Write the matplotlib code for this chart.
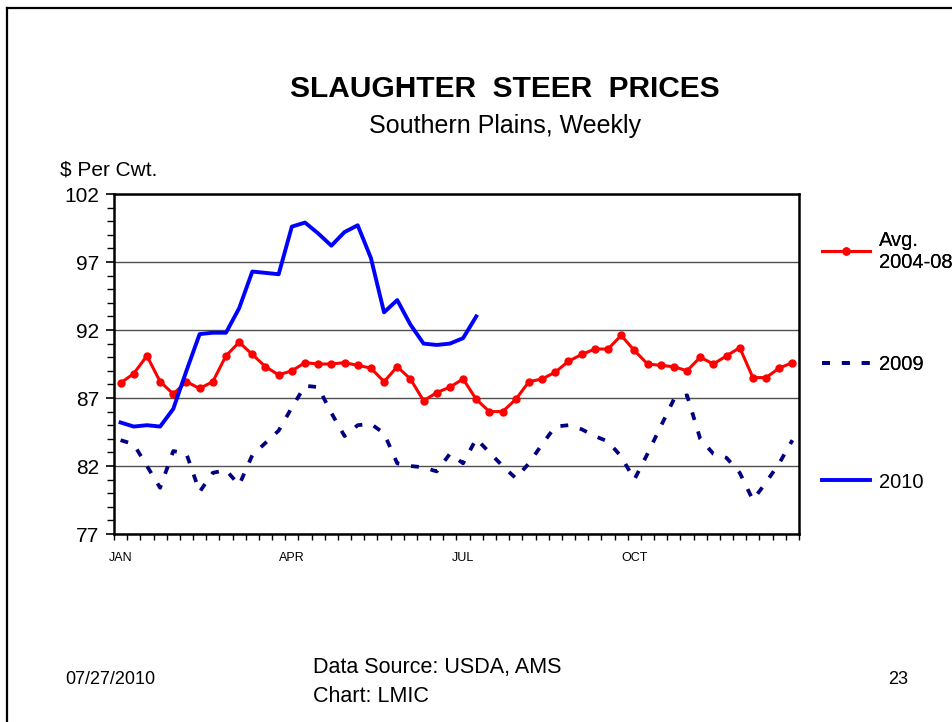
import matplotlib
matplotlib.use("Agg")
import matplotlib.pyplot as plt
from matplotlib.lines import Line2D
from matplotlib.ticker import MultipleLocator, FixedLocator, NullFormatter

plt.rcParams['font.family'] = ['Liberation Sans', 'DejaVu Sans']

# weekly prices, $ per cwt
weeks = list(range(52))
avg_0408 = [88.1, 88.8, 90.1, 88.2, 87.3, 88.2, 87.7, 88.2, 90.1, 91.1,
            90.2, 89.3, 88.7, 89.0, 89.6, 89.5, 89.5, 89.6, 89.4, 89.2,
            88.2, 89.3, 88.4, 86.8, 87.4, 87.8, 88.4, 86.9, 86.0, 86.0,
            86.9, 88.2, 88.4, 88.9, 89.7, 90.2, 90.6, 90.6, 91.6, 90.5,
            89.5, 89.4, 89.3, 89.0, 90.0, 89.5, 90.1, 90.7, 88.5, 88.5,
            89.2, 89.6]
y2009 = [83.9, 83.6, 82.0, 80.4, 83.1, 82.9, 80.1, 81.5, 81.7, 80.6,
         82.8, 83.7, 84.6, 86.3, 87.9, 87.8, 85.9, 84.2, 85.0, 85.1,
         84.4, 82.2, 82.0, 81.9, 81.6, 82.9, 82.2, 84.0, 83.0, 82.0,
         81.1, 82.2, 83.6, 84.9, 85.0, 84.7, 84.2, 83.8, 82.7, 81.0,
         82.9, 84.9, 86.9, 87.2, 84.0, 82.9, 82.6, 81.5, 79.5, 80.8,
         82.2, 83.9]
y2010 = [85.2, 84.9, 85.0, 84.9, 86.2, 89.0, 91.7, 91.8, 91.8, 93.6,
         96.3, 96.2, 96.1, 99.6, 99.9, 99.1, 98.2, 99.2, 99.7, 97.3,
         93.3, 94.2, 92.4, 91.0, 90.9, 91.0, 91.4, 93.0]

y_ticks = [77, 82, 87, 92, 97, 102]
month_pos = [0, 13, 26, 39]
month_labels = ['JAN', 'APR', 'JUL', 'OCT']

fig = plt.figure(figsize=(9.53, 7.22), dpi=100)

# slide frame
fig.add_artist(Line2D([7/953, 7/953], [0, 1 - 8/722], transform=fig.transFigure, color='black', lw=1.6))
fig.add_artist(Line2D([7/953, 1], [1 - 8/722, 1 - 8/722], transform=fig.transFigure, color='black', lw=1.6))

ax = fig.add_axes([114/953, 188/722, 685/953, 340/722])

l1, = ax.plot(weeks, avg_0408, color='#FF0000', lw=2.2, marker='o', markersize=5, zorder=3)
l2, = ax.plot(weeks, y2009, color='#000080', lw=2.7, linestyle=(0, (2.1, 3.2)), zorder=2)
l3, = ax.plot(weeks[:len(y2010)], y2010, color='#0000FF', lw=2.8, zorder=4)

ax.set_xlim(-0.5, 51.5)
ax.set_ylim(y_ticks[0], y_ticks[-1])
ax.yaxis.set_major_locator(FixedLocator(y_ticks))
ax.yaxis.set_minor_locator(MultipleLocator(1))
ax.yaxis.grid(True, which='major', color='#505050', lw=1.0)
ax.set_axisbelow(True)

ax.xaxis.set_major_locator(FixedLocator(month_pos))
ax.set_xticklabels(month_labels)
ax.xaxis.set_minor_locator(FixedLocator([w - 0.5 for w in weeks] + [51.5]))
ax.xaxis.set_minor_formatter(NullFormatter())
ax.tick_params(axis='x', which='major', length=0, pad=13, labelsize=9)
ax.tick_params(axis='x', which='minor', direction='out', length=4, width=1)
ax.tick_params(axis='y', which='major', direction='out', length=5.5, width=1.2, pad=5, labelsize=15)
ax.tick_params(axis='y', which='minor', direction='out', length=5, width=1)

for s in ax.spines.values():
    s.set_linewidth(1.8)

# titles
fig.text(505/953, 1 - 89/722, 'SLAUGHTER  STEER  PRICES', ha='center', va='center',
         fontsize=21.5, fontweight='bold')
fig.text(505/953, 1 - 126/722, 'Southern Plains, Weekly', ha='center', va='center', fontsize=18)
fig.text(60/953, 1 - 170/722, '$ Per Cwt.', ha='left', va='center', fontsize=15)

# legend, one entry per block
leg_kw = dict(frameon=False, fontsize=14.5, handlelength=2.4, handletextpad=0.45,
              loc='center left', borderpad=0, borderaxespad=0)
fig.add_artist(fig.legend([l1], ['Avg.\n2004-08'], bbox_to_anchor=(822/953, 1 - 251/722), **leg_kw))
fig.add_artist(fig.legend([l2], ['2009'], bbox_to_anchor=(822/953, 1 - 365/722), **leg_kw))
fig.legend([l3], ['2010'], bbox_to_anchor=(822/953, 1 - 482/722), **leg_kw)

# footer
fig.text(65/953, 1 - 680/722, '07/27/2010', ha='left', va='center', fontsize=13)
fig.text(313/953, 1 - 668/722, 'Data Source: USDA, AMS', ha='left', va='center', fontsize=15.5)
fig.text(313/953, 1 - 697/722, 'Chart: LMIC', ha='left', va='center', fontsize=15.5)
fig.text(898/953, 1 - 680/722, '23', ha='center', va='center', fontsize=13)

fig.savefig('out.png', dpi=100)
